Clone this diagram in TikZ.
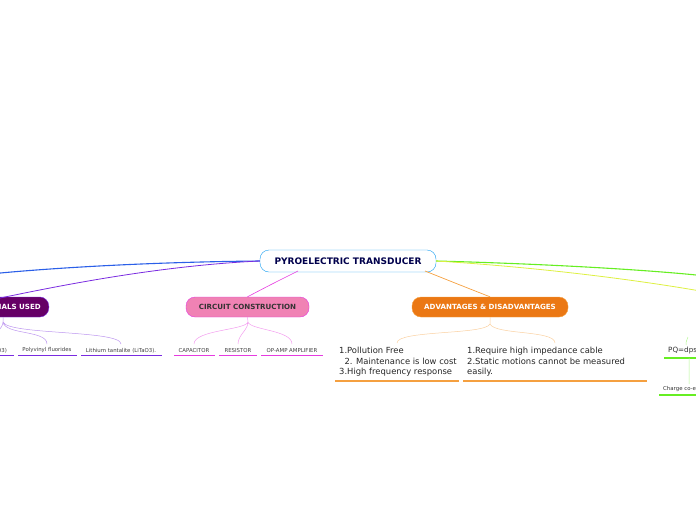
\documentclass[tikz,border=0pt]{standalone}
\usepackage{fontspec}
\setmainfont{DejaVu Sans}
\begin{document}
\begin{tikzpicture}[x=1pt,y=-1pt,
 topic/.style={rounded corners=9pt,minimum height=20pt,font=\fontsize{7.1}{8}\selectfont\bfseries,inner xsep=8pt},
 leaf/.style={font=\fontsize{5.4}{6}\selectfont,text=black!75,anchor=south,inner sep=1pt},
 big/.style={font=\fontsize{8.4}{10.5}\selectfont,text=black!85,align=left,anchor=north west,inner sep=0pt}]
\useasboundingbox (0,0) rectangle (696,520);
\clip (0,0) rectangle (696,520);
\definecolor{bl}{HTML}{2B5FE8}\definecolor{pu}{HTML}{7A2BE0}\definecolor{pk}{HTML}{E63BE0}
\definecolor{orr}{HTML}{F5A040}\definecolor{gr}{HTML}{66EE22}\definecolor{ye}{HTML}{DDF040}
% root
\node[rounded corners=9pt,draw=bl!60!cyan,fill=white,minimum width=176pt,minimum height=22pt,font=\fontsize{9}{10}\selectfont\bfseries,text=blue!30!black] (root) at (348,261) {PYROELECTRIC TRANSDUCER};
% topics
\node[topic,fill=violet!80!black,text=white,draw=pu,anchor=east] (mat) at (49,307) {MATERIALS USED};
\node[topic,fill={rgb,255:red,240;green,130;blue,180},draw=pk,text=black!80,minimum width=123pt] (cc) at (247.5,307) {CIRCUIT CONSTRUCTION};
\node[topic,fill={rgb,255:red,235;green,120;blue,20},draw=orr,text=white,minimum width=156pt] (adv) at (490,307) {ADVANTAGES \& DISADVANTAGES};
\coordinate (far1) at (-10,274);
\coordinate (far2) at (706,276);
\coordinate (far3) at (706,292);
% main connectors
\draw[bl,line width=1.1pt] (root.west) .. controls (150,262) and (50,268) .. (far1);
\draw[pu,line width=0.8pt] (root.west) .. controls (150,266) and (40,290) .. (0,298);
\draw[pk,line width=0.6pt] (298,271) .. controls (270,285) .. (cc.north);
\draw[orr,line width=0.7pt] (425,271) .. controls (460,285) .. (adv.north);
\draw[gr,line width=1.1pt] (root.east) .. controls (550,264) and (650,270) .. (far2);
\draw[ye,line width=0.8pt] (root.east) .. controls (550,268) and (650,282) .. (far3);
% material leaves
\node[leaf] (m1) at (-27,354) {Lithium niobate (LiNbO3)};
\node[leaf] (m2) at (47,354) {Polyvinyl fluorides};
\node[leaf] (m3) at (121,354) {Lithium tantalite (LiTaO3).};
\draw[pu,line width=1.2pt] (-40,355.5) -- (14,355.5) (18,355.5) -- (77,355.5) (81,355.5) -- (162,355.5);
\draw[pu!50,line width=0.5pt] (3,317) -- (3,322) (3,322) .. controls (3,330) and (-10,335) .. (-10,344)
 (3,322) .. controls (5,335) and (47,330) .. (47,344)
 (3,322) .. controls (8,335) and (121,330) .. (121,344);
% circuit leaves
\node[leaf] (c1) at (194,354) {CAPACITOR};
\node[leaf] (c2) at (238,354) {RESISTOR};
\node[leaf] (c3) at (292,354) {OP-AMP AMPLIFIER};
\draw[pk,line width=1.2pt] (174,355.5) -- (215,355.5) (219,355.5) -- (257,355.5) (261,355.5) -- (323,355.5);
\draw[pk!50,line width=0.5pt] (cc.south) -- (248,322)
 (248,322) .. controls (246,330) and (194,330) .. (194,344)
 (248,322) .. controls (248,330) and (238,335) .. (238,344)
 (248,322) .. controls (250,330) and (292,330) .. (292,344);
% advantages
\node[big] (a1) at (339,347) {1.Pollution Free\\\ \ 2. Maintenance is low cost\\3.High frequency response};
\node[big] (a2) at (467,347) {1.Require high impedance cable\\2.Static motions cannot be measured\\easily.};
\draw[orr,line width=1.4pt] (335,381) -- (459,381) (463,381) -- (647,381);
\draw[orr!50,line width=0.5pt] (adv.south) -- (490,324)
 (490,324) .. controls (485,335) and (397,330) .. (397,343)
 (490,324) .. controls (495,335) and (555,330) .. (555,343);
% right
\node[font=\fontsize{7.2}{8}\selectfont,anchor=west,inner sep=0pt,text=black!80] (pq) at (668,351) {PQ=dps};
\draw[gr,line width=1.4pt] (664,358) -- (700,358);
\draw[gr!50,line width=0.5pt] (688,337) .. controls (686,342) .. (686,345) (689,358) -- (689,384);
\node[font=\fontsize{5.4}{6}\selectfont,anchor=west,inner sep=0pt,text=black!80] (ch) at (663,389) {Charge co-efficient};
\draw[gr,line width=1.4pt] (659,395) -- (700,395);
\end{tikzpicture}
\end{document}
